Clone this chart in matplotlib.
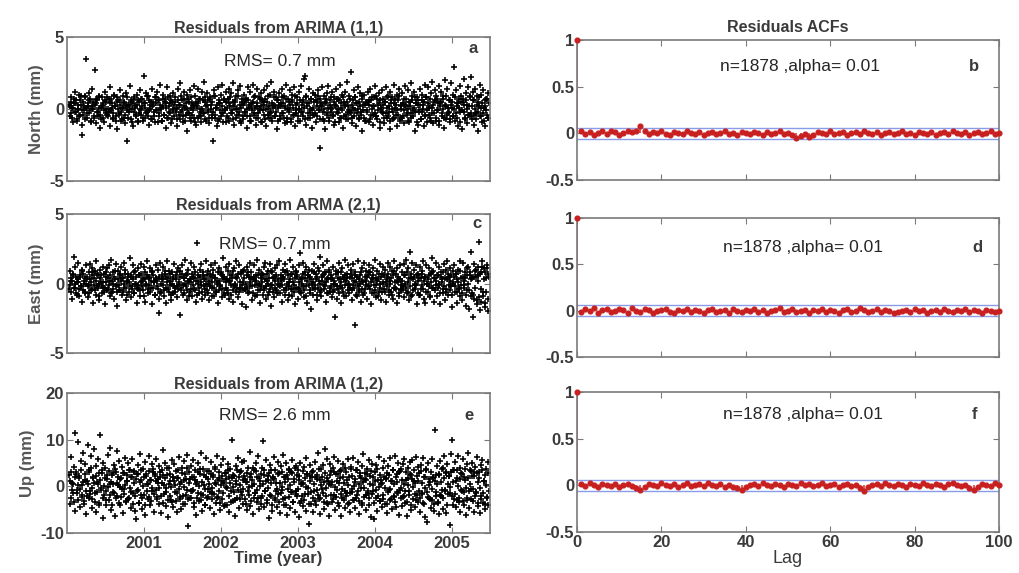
import numpy as np
import matplotlib
matplotlib.use("Agg")
import matplotlib.pyplot as plt

plt.rcParams['font.family'] = ['Liberation Sans', 'DejaVu Sans']
plt.rcParams['axes.unicode_minus'] = False

# ---------------- data ----------------
t_start, t_end = 2000.03, 2005.48

north_tenths = [
    3,-5,8,1,-9,4,12,-2,6,-7,0,10,-4,3,-11,-18,5,-1,9,35,
    -6,2,11,-3,7,-8,14,0,-5,27,4,-10,6,-2,9,-13,1,8,-6,3,
    -9,12,5,-4,0,7,-12,15,-1,4,-7,10,2,-5,8,-14,6,-3,13,-8,
    1,9,-6,4,-10,11,-22,3,-2,16,-7,5,0,-12,8,2,-4,10,-9,6,
    -3,13,-1,7,-8,23,4,-6,11,-2,9,-11,0,5,-7,14,3,-5,8,-1,
    12,-9,6,-3,17,1,-8,10,-4,7,-13,4,15,-6,2,9,-10,5,-1,11,
    -5,8,0,-12,14,3,-7,18,-2,6,-9,12,1,-4,10,-15,7,-3,13,-8,
    4,-1,16,-6,9,-11,2,14,-5,7,0,-9,12,-3,19,5,-8,11,-2,6,
    -10,8,3,-6,-22,13,-4,9,1,-12,15,-7,4,10,-3,17,-9,6,-1,12,
    -5,7,14,-8,2,11,-3,18,-11,5,9,-6,0,13,-4,16,-10,7,3,-7,
    10,-2,6,-13,15,1,-5,12,-8,4,17,-3,9,-11,2,14,-6,8,-1,11,
    -9,5,13,-4,7,-12,16,0,-6,10,-2,19,-8,3,12,-5,8,-14,6,1,
    11,-7,4,14,-3,9,-10,2,17,-6,7,-1,13,-9,5,10,-4,15,-12,3,
    8,-5,12,0,-8,16,-2,6,21,23,-11,9,4,-6,14,-3,7,-13,11,1,
    -4,10,-9,5,13,-1,7,-27,2,15,-7,9,-14,4,11,-3,16,-8,6,0,
    12,-5,8,-11,3,14,-2,7,-9,17,1,-6,10,-13,5,12,-4,19,-7,2,
    9,-3,26,-10,6,13,-1,8,-12,4,15,-6,11,-2,7,-15,3,10,-8,5,
    -1,12,-9,6,14,-4,8,-11,2,16,-5,9,-7,3,11,-13,0,13,-3,7,
    -10,5,15,-6,9,-2,12,-14,4,8,-7,17,1,-4,10,-12,6,14,-8,3,
    11,-5,7,-10,16,2,-3,13,-9,5,18,-6,9,-1,12,-15,4,8,-11,6,
    -2,14,-7,10,3,-12,17,-4,8,-9,15,1,-6,11,-3,19,-10,5,13,-8,
    7,-1,16,-11,4,12,-5,9,-13,20,2,-7,14,-3,6,-9,18,1,-5,10,
    29,-8,13,4,-12,7,16,-2,9,-14,5,21,-6,11,-10,3,15,-4,8,22,
    -7,12,-11,6,14,-3,9,-15,2,17,-5,10,-9,13,1,-12,7,-4,11,-6,
]
north_core_tenths = [
    2,5,-3,-6,1,7,4,-2,-8,0,3,-5,6,9,-1,-4,2,8,-7,1,
    -3,4,6,-1,-9,2,0,5,-6,3,7,-2,-5,1,8,-4,-7,2,4,-1,
    6,-3,0,8,-5,-2,4,7,1,-6,-3,9,2,-8,5,0,-4,6,3,-2,
    -7,1,5,-4,2,8,-1,-6,3,0,6,-9,4,-2,7,1,-5,3,-8,5,
    0,-4,7,2,-6,4,1,-3,9,-5,-1,6,3,-7,2,5,-2,-9,4,8,
    -1,6,-5,3,0,-8,7,2,-4,5,1,-6,8,-2,-3,4,6,-7,0,3,
    5,-2,-7,1,6,-4,3,9,-1,-5,2,7,-8,4,0,-3,5,-6,1,8,
    -4,3,2,-9,5,1,-6,4,7,-2,-5,0,6,-3,8,-7,2,3,-1,-6,
    7,0,-4,5,-2,9,-6,1,3,-8,4,6,-1,-5,2,-3,7,0,-9,5,
    1,-6,4,8,-3,-1,5,-7,2,6,0,-4,9,-2,3,-8,1,5,-5,4,
    -2,7,-5,0,6,3,-8,2,-1,5,-4,8,1,-6,4,-3,0,7,-9,2,
    6,-1,3,-7,0,5,-4,9,2,-3,-6,4,1,8,-5,2,-2,6,-8,3,
    -5,2,8,-3,4,-6,1,7,-9,0,5,-2,3,-7,6,1,-4,9,-1,-3,
    4,-8,0,6,-2,3,5,-5,1,-7,8,2,-3,4,-6,0,7,-1,-4,5,
    -3,6,2,-5,9,-1,-7,4,3,-2,0,-8,5,7,-4,1,-6,3,8,-2,
    1,-4,5,-9,2,7,-3,0,6,-6,4,-1,8,-5,2,3,-7,5,-2,-1,
    7,-2,-6,3,1,-5,8,4,-3,0,-7,5,2,-4,9,-1,-6,3,4,-8,
    -2,5,3,-7,6,0,-4,2,8,-3,-5,7,-1,4,-9,6,1,-2,3,-6,
    5,-3,1,8,-5,2,-8,6,0,-2,4,-6,7,3,-1,-4,9,-7,2,0,
    -6,4,-1,3,7,-4,0,-8,5,2,-3,6,-5,1,8,-2,4,-9,3,-1,
    3,-7,6,-2,0,5,-5,8,-1,4,-4,2,7,-8,1,3,-3,6,-6,9,
    -1,4,-8,2,5,-3,7,0,-6,3,9,-4,1,-2,6,-7,3,5,-5,0,
    8,-3,2,-6,4,1,-9,5,-1,7,-2,3,-7,6,0,-4,2,9,-5,-3,
    2,6,-4,0,-7,3,5,-2,8,-5,1,4,-3,-8,6,2,-1,7,-6,4,
]

east_tenths = [
    -4,9,2,-11,6,19,-3,12,-7,1,15,-9,5,-2,10,-13,7,0,-6,13,
    3,-10,8,-1,14,-5,11,-14,4,9,-8,16,-2,6,-12,10,1,-7,12,-3,
    7,-15,5,11,-4,13,-9,2,17,-6,8,-11,3,14,-1,-16,9,-5,6,12,
    -8,4,15,-3,10,-12,1,7,-6,18,-10,5,-2,13,-7,9,0,-14,11,-4,
    6,-9,14,2,-5,12,-13,8,-1,16,-7,4,11,-3,9,-15,6,1,-8,13,
    -2,10,-11,-21,15,-6,3,12,-9,7,-14,5,16,-4,9,-1,-12,8,3,-7,
    14,-3,6,-10,11,0,-23,9,-5,13,-8,4,17,-2,7,-12,10,1,-6,15,
    -9,5,12,-4,8,-13,29,2,-7,10,-1,14,-11,6,3,-8,16,-5,9,0,
    -12,7,13,-3,10,-9,4,15,-6,1,-14,11,-2,8,-10,6,18,-7,3,12,
    -5,9,-11,14,2,-8,6,-13,11,-1,16,-6,4,-10,13,-3,7,-15,9,1,
    10,-4,-17,12,-7,5,15,-2,8,-12,3,13,-9,6,-1,17,-5,10,-14,4,
    7,-8,12,-3,15,-11,2,9,-6,14,-1,-16,8,4,-10,11,-5,13,0,-7,
    16,-2,6,-13,10,3,-8,14,-5,9,-12,1,17,-4,7,-9,12,-1,-15,8,
    5,-11,13,-3,22,-7,4,15,-10,8,-2,12,-14,6,10,-5,-18,9,1,-8,
    14,-4,7,-12,11,2,-6,19,-9,5,13,-1,8,-13,3,16,-7,10,-3,6,
    -10,12,0,-5,-24,9,-11,4,15,-2,8,-14,11,-6,3,17,-9,7,-1,13,
    -7,5,10,-12,14,-3,-30,8,1,-9,16,-5,6,-13,11,2,-8,15,-4,9,
    -11,6,13,-2,8,-15,4,11,-7,17,-1,-10,9,3,-6,14,-12,7,0,12,
    -4,10,-13,5,15,-8,2,12,-6,9,-11,16,-3,7,-14,11,1,-9,13,-5,
    8,-2,14,-10,6,17,-7,11,-12,23,4,-9,15,-5,10,-1,13,-15,7,2,
    -8,12,-4,9,16,-11,5,-14,13,0,-6,11,-10,7,18,-3,9,-13,4,15,
    -9,6,-1,12,-15,8,3,-7,14,-12,10,-4,16,-8,5,11,-2,-17,9,1,
    13,-6,7,-14,10,-3,16,-9,4,-12,15,-1,8,-16,11,-5,12,-18,6,23,
    -7,-24,14,-11,9,5,-15,12,30,-19,8,-13,16,-6,11,-17,4,13,-20,7,
]
east_core_tenths = [
    -1,4,-6,2,7,-3,0,5,-8,3,1,-4,6,-2,9,-5,2,-7,4,0,
    5,-2,-7,3,1,6,-4,8,-1,-5,2,7,-3,0,-9,4,6,-2,1,-6,
    -3,8,1,-5,4,-1,6,-7,2,0,-4,5,9,-2,-6,3,-1,7,-5,2,
    4,-6,0,7,-3,2,-8,5,1,-2,6,-4,3,8,-7,0,5,-3,-1,6,
    -5,1,7,-2,4,-9,3,0,6,-4,-1,5,-6,2,8,-3,1,-8,4,3,
    2,-4,5,-7,0,6,-1,3,-5,9,-3,1,4,-6,2,7,-8,0,5,-2,
    -6,3,-2,8,-4,1,5,-3,7,-1,-7,4,0,6,-5,2,-9,3,1,-4,
    7,-1,4,-5,2,-8,6,0,-3,5,1,-6,8,-2,3,-4,0,6,-7,2,
    -2,5,-9,1,6,-3,4,-6,0,8,-5,2,-1,7,-4,3,5,-8,1,-3,
    3,-7,2,6,-1,4,-5,9,-2,0,5,-3,7,-6,1,-4,8,-1,-5,4,
    -4,0,6,-3,8,-6,1,4,-2,-7,3,5,-1,2,-8,6,0,-5,7,-2,
    1,6,-5,3,-2,7,-8,0,4,-4,9,-1,-6,5,2,-3,6,-7,3,-1,
    -7,2,4,-1,5,-5,8,-3,0,6,-2,-8,3,7,-4,1,-6,4,9,-3,
    6,-4,1,-6,3,0,7,-2,-5,4,-9,2,6,-1,5,-7,3,0,-3,8,
    -1,3,-8,5,-3,9,0,-5,2,6,-4,7,-2,1,-7,4,8,-6,3,-2,
    4,-6,2,0,7,-2,-4,8,-7,3,1,-3,5,-9,6,-1,2,4,-5,0,
    -3,7,-5,4,-1,2,6,-8,5,-2,3,-6,0,8,-4,1,-7,5,2,-1,
    5,-2,8,-4,1,-7,3,6,-1,-5,4,2,-9,7,0,-3,5,-6,1,6,
    -6,1,3,-2,7,-5,0,4,-8,6,-3,9,1,-4,2,5,-7,3,-1,-4,
    2,-5,6,0,-3,8,-6,1,4,-2,7,-8,3,5,-4,0,-1,6,-7,4,
    -8,4,-1,7,-4,2,5,-6,0,3,-2,6,-9,1,8,-3,4,-5,2,-1,
    6,-3,0,-7,5,1,-4,8,-2,4,-6,3,7,-1,-5,2,6,-8,0,5,
    -2,7,-6,3,1,-4,9,-1,-7,5,2,-3,4,-8,6,0,-5,8,-9,3,
    4,-8,5,-3,10,-12,6,2,-10,7,-4,12,-9,3,-14,8,-6,11,-11,5,
]

up_tenths = [
    25,-38,62,8,-15,41,114,-52,30,-7,96,18,-44,55,-22,3,72,-31,47,-60,
    12,88,-26,35,-9,64,-47,20,81,-14,44,-55,9,58,-36,110,-3,29,-68,51,
    -18,39,-41,15,67,-29,6,83,-50,24,-12,46,-63,31,75,-21,2,54,-39,17,
    42,-57,28,-5,61,-33,11,49,-24,36,-46,19,58,-15,33,-52,-70,26,-8,45,
    -35,70,14,-48,37,-19,53,-62,22,5,-28,66,-40,13,48,-11,31,-54,27,59,
    -23,8,43,-37,19,-58,34,77,-16,50,-42,-4,25,-66,39,12,-30,56,-45,21,
    47,-13,32,-56,18,63,-27,4,-49,40,-20,54,-38,16,-7,68,-85,30,-25,43,
    -9,57,-44,21,36,-61,10,49,-32,26,-17,71,-53,38,2,-41,60,-26,15,-6,
    33,-47,52,-14,24,-59,41,8,-35,66,-22,17,-50,45,11,-28,58,-43,29,-2,
    -39,48,19,-55,37,-10,100,-31,23,-64,44,6,-24,61,-46,31,-13,52,-37,14,
    55,-28,9,-51,40,-19,73,-42,27,1,-60,36,-15,50,-33,20,65,-48,12,-26,
    39,98,-44,25,-11,57,-36,13,-67,46,-21,34,-53,18,62,-30,7,-45,53,-16,
    28,-58,43,-8,67,-39,21,-25,50,-62,15,38,-47,30,-12,57,-34,9,-54,44,
    -20,35,-65,22,49,-31,6,-43,41,-16,60,-52,27,-3,-80,46,-37,19,-56,32,
    -11,53,-40,25,72,-27,14,-59,38,-6,45,-49,80,-21,58,-35,11,-63,47,2,
    -33,40,-18,63,-51,26,-8,55,-42,17,-64,36,-24,48,7,-46,31,-15,59,-38,
    20,-55,42,-12,61,-29,9,-47,34,-19,52,-60,28,-4,44,-36,69,-23,16,-50,
    37,-14,57,-41,23,-65,48,-9,-70,30,-26,45,-53,13,62,-32,5,-44,39,-18,
    54,-37,18,-57,43,-7,60,-29,11,-48,35,-22,66,-45,27,-13,51,-61,32,-3,
    -42,47,-20,58,-35,14,-63,39,-10,52,24,-50,56,-27,12,-44,63,-19,41,-34,
    29,-55,46,-16,61,-38,20,-66,35,-77,50,-24,9,-47,58,-30,17,-52,120,-12,
    43,-36,26,-60,55,-21,38,-49,64,-8,31,-58,47,-17,22,-83,69,100,-41,35,
    -27,52,-45,18,66,-33,40,-56,28,-11,59,-39,14,-62,48,-24,71,-46,36,-6,
    50,-31,23,-54,41,-15,62,-43,30,-58,45,-20,57,-36,11,-49,38,-26,53,-40,
]
up_core_tenths = [
    12,-25,31,-8,4,-33,19,27,-14,2,-29,22,-5,35,-18,9,-38,14,26,-11,
    -21,6,30,-16,40,-3,-27,17,8,-34,23,-12,5,29,-40,13,-7,36,-24,1,
    18,-9,-30,25,-2,33,-19,10,-41,28,4,-15,37,-26,7,21,-35,-1,16,-22,
    -6,29,-17,3,-32,24,11,-28,36,-4,-13,20,-38,8,31,-20,15,-9,27,-36,
    9,-18,34,-25,1,19,-39,26,-10,5,32,-23,14,-31,-3,38,-16,22,-7,12,
    -27,15,-4,30,-20,8,24,-36,2,17,-12,39,-29,6,-21,27,-1,-33,20,11,
    3,-31,18,-14,35,-6,-23,9,29,-37,13,-2,26,-19,40,-28,7,16,-11,-25,
    21,-8,-35,14,6,-24,31,-15,1,37,-30,10,-18,24,-5,-39,19,33,-22,4,
    -12,27,-3,-28,20,-17,38,5,-26,13,-9,30,-36,2,22,-14,8,-40,28,15,
    -4,34,-21,7,-33,18,-1,25,-13,-30,11,36,-8,19,-27,3,32,-19,-6,23,
    16,-37,9,28,-11,-2,21,-32,14,39,-24,5,-15,33,-7,-26,17,1,-38,26,
    -20,4,35,-9,12,-30,23,-3,29,-18,8,-41,20,15,-25,34,-10,-5,27,-34,
    7,-15,-2,31,-27,19,10,-39,24,-6,36,-22,3,-13,28,-33,16,39,-9,-17,
    25,-5,13,-35,4,-20,32,8,-29,18,-1,26,-16,-38,11,22,-12,30,-24,6,
    -31,20,-8,15,-19,37,-26,2,21,-14,-34,9,29,-4,17,-37,5,24,-18,33,
    10,-28,30,-1,-23,11,26,-36,7,32,-16,-5,19,-29,40,-10,-21,13,3,-35,
    -14,38,-6,22,-30,1,15,-25,35,-11,6,-32,23,18,-40,9,-3,28,-19,14,
    27,-10,-24,6,33,-17,2,20,-35,12,-7,37,-21,-1,25,-31,14,8,-28,19,
    -3,16,-38,29,-13,24,-5,-27,11,36,-20,4,-33,21,9,-15,30,-8,-26,38,
    13,-22,5,-11,31,-34,18,3,-19,26,-41,15,-2,34,-16,7,-30,23,11,-9,
    -25,32,-15,8,-36,21,-4,37,-12,-23,16,2,-28,30,-6,19,-37,12,25,-20,
    4,-33,24,-18,10,-7,39,-26,17,-10,28,-39,6,23,-14,-2,31,-21,9,36,
    -17,11,-29,34,1,-24,15,-8,27,-32,20,-13,38,-3,-30,17,-11,4,33,-27,
    22,-6,31,-20,-12,28,-35,9,18,-4,-27,35,-15,12,-38,24,3,-23,29,-10,
]

# ACF values (hundredths) for lags 1..100; lag 0 = 1
acf_b = [2,-1,1,-2,0,3,-1,2,1,-2, 0,2,1,3,8,2,-1,1,0,2, -1,-2,1,0,-1,2,0,-1,1,-2,
         0,1,-1,0,2,-1,0,-2,1,0, -1,1,0,-2,1,-1,0,2,-1,0, -2,-5,-3,-1,-4,-2,1,0,-1,2,
         -1,0,1,-2,0,1,-1,2,0,-1, 1,-2,0,1,-1,0,2,-1,0,-2, 1,0,-1,1,-2,0,1,-1,2,0,
         -1,1,-2,0,1,-1,0,2,-1,0]
acf_d = [-1,2,0,3,-2,1,2,-1,0,2, 1,-2,3,0,-1,2,1,-2,0,1, 2,-1,-3,1,0,2,-1,1,0,-2,
         1,2,-1,0,1,-2,2,0,-1,1, 0,2,-1,1,-2,0,1,3,-1,0, 2,-1,0,1,-2,1,0,2,-1,1,
         0,-2,1,2,-1,0,3,1,-1,0, 2,-1,1,0,-2,-1,0,1,-1,2, 0,1,-2,0,1,-1,2,0,-1,1,
         0,2,-1,1,0,-2,1,0,-1,0]
acf_f = [1,-1,2,0,-2,1,0,-1,1,-2, 0,1,-1,-3,-5,-2,1,0,-1,2, 0,-1,1,-2,0,2,-1,0,1,-1,
         2,0,-1,1,-2,0,-2,-3,-5,-2, 0,1,-1,2,0,-1,1,0,-2,1, 0,-1,2,0,1,-1,0,2,-1,0,
         1,-2,0,1,-1,0,-3,-6,-2,0, 1,-1,2,0,-1,1,0,-2,1,0, -1,2,0,-1,1,0,-2,1,2,0,
         -1,0,-3,-5,-2,1,0,-1,2,0]
conf_bound = 0.0594

left_titles = ['Residuals from ARIMA (1,1)', 'Residuals from ARMA (2,1)', 'Residuals from ARIMA (1,2)']
left_ylabels = ['North (mm)', 'East (mm)', 'Up (mm)']
rms_texts = ['RMS= 0.7 mm', 'RMS= 0.7 mm', 'RMS= 2.6 mm']
left_letters = ['a', 'c', 'e']
right_letters = ['b', 'd', 'f']
acf_text = 'n=1878 ,alpha= 0.01'
year_ticks = [2001, 2002, 2003, 2004, 2005]
lag_ticks = [0, 20, 40, 60, 80, 100]

# ---------------- figure ----------------
W, H = 1019, 573
fig = plt.figure(figsize=(W / 100, H / 100), dpi=100)
fig.patch.set_facecolor('white')

def rect(x0, y0, x1, y1):
    return [x0 / W, 1 - y1 / H, (x1 - x0) / W, (y1 - y0) / H]

left_boxes = [(67, 37, 490, 181), (67, 214, 490, 353), (67, 393, 490, 533)]
right_boxes = [(577, 40, 999, 180), (577, 218, 999, 357), (577, 392, 999, 532)]
frame_col = '#7a7a7a'
txt_col = '#3a3a3a'

def style(ax):
    for s in ax.spines.values():
        s.set_color(frame_col)
        s.set_linewidth(1.2)
    ax.tick_params(direction='in', top=True, right=True, length=4, width=0.8,
                   color=frame_col, labelsize=12, pad=2, labelcolor=txt_col)
    for lab in ax.get_xticklabels() + ax.get_yticklabels():
        lab.set_fontweight('bold')

series = [(north_tenths, north_core_tenths), (east_tenths, east_core_tenths),
          (up_tenths, up_core_tenths)]
ylims = [(-5, 5), (-5, 5), (-10, 20)]
yticks = [[-5, 0, 5], [-5, 0, 5], [-10, 0, 10, 20]]
rms_pos = [(0.37, 0.83), (0.36, 0.777), (0.36, 0.836)]
let_pos = [(0.96, 0.92), (0.97, 0.93), (0.95, 0.84)]

for i in range(3):
    ax = fig.add_axes(rect(*left_boxes[i]))
    for k, lst in enumerate(series[i]):
        vals = np.array(lst) / 10.0
        t = np.linspace(t_start, t_end, len(vals))
        if k == 1:
            t = t + (t[1] - t[0]) / 2
        ax.plot(t, vals, linestyle='none', marker='+', color='black',
                markersize=4.3, markeredgewidth=1.15)
    ax.set_xlim(2000.0, 2005.5)
    ax.set_ylim(*ylims[i])
    ax.set_xticks(year_ticks)
    ax.set_yticks(yticks[i])
    if i < 2:
        ax.set_xticklabels([])
    else:
        ax.set_xlabel('Time (year)', fontsize=12, fontweight='bold', color=txt_col, labelpad=0)
    ax.set_ylabel(left_ylabels[i], fontsize=12, fontweight='bold', color='#555555', labelpad=4)
    ax.set_title(left_titles[i], fontsize=11.5, fontweight='bold', color=txt_col, pad=3)
    ax.text(rms_pos[i][0], rms_pos[i][1], rms_texts[i], transform=ax.transAxes,
            fontsize=12.5, ha='left', va='center', color='#262626')
    ax.text(let_pos[i][0], let_pos[i][1], left_letters[i], transform=ax.transAxes,
            fontsize=12, ha='center', va='center', color=txt_col, fontweight='bold')
    style(ax)

acfs = [acf_b, acf_d, acf_f]
acf_pos = [(0.338, 0.81), (0.346, 0.79), (0.346, 0.836)]
rl_pos = [(0.94, 0.81), (0.95, 0.79), (0.943, 0.836)]
for i in range(3):
    ax = fig.add_axes(rect(*right_boxes[i]))
    vals = np.concatenate([[1.0], np.array(acfs[i]) / 100.0])
    lags = np.arange(len(vals))
    ax.axhline(conf_bound, color='#8a9be8', lw=1.0, zorder=1)
    ax.axhline(-conf_bound, color='#8a9be8', lw=1.0, zorder=1)
    ax.vlines(lags, 0, vals, color='#e04040', lw=1.2, zorder=2)
    ax.plot(lags, vals, linestyle='none', marker='o', color='#c82020',
            markersize=3.4, zorder=3, clip_on=False)
    ax.set_xlim(0, 100)
    ax.set_ylim(-0.5, 1)
    ax.set_xticks(lag_ticks)
    ax.set_yticks([-0.5, 0, 0.5, 1])
    ax.set_yticklabels(['-0.5', '0', '0.5', '1'])
    if i < 2:
        ax.set_xticklabels([])
    else:
        ax.set_xlabel('Lag', fontsize=13, color=txt_col, labelpad=0)
    if i == 0:
        ax.set_title('Residuals ACFs', fontsize=11.5, fontweight='bold', color=txt_col, pad=6)
    ax.text(acf_pos[i][0], acf_pos[i][1], acf_text, transform=ax.transAxes,
            fontsize=12.5, ha='left', va='center', color='#262626')
    ax.text(rl_pos[i][0], rl_pos[i][1], right_letters[i], transform=ax.transAxes,
            fontsize=12, ha='center', va='center', color=txt_col, fontweight='bold')
    style(ax)

fig.savefig('out.png', dpi=100, facecolor='white')
